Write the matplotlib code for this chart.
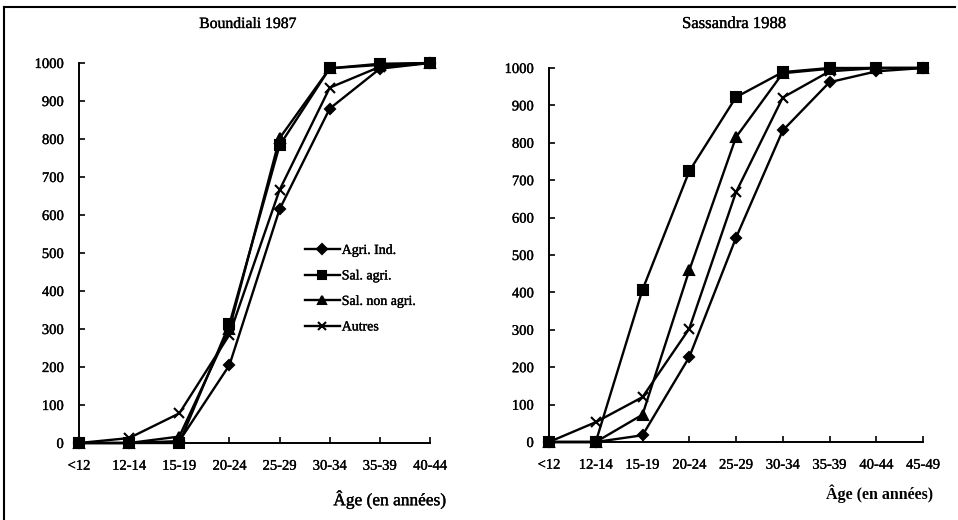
import matplotlib.pyplot as plt
import matplotlib.patheffects as pe
from matplotlib.lines import Line2D

plt.rcParams['font.family'] = ['Liberation Serif', 'DejaVu Serif']
plt.rcParams['font.size'] = 10

ages_b = ['<12', '12-14', '15-19', '20-24', '25-29', '30-34', '35-39', '40-44']
ages_s = ages_b + ['45-49']

# Boundiali 1987
b_agri_ind = [0, 0, 5, 205, 615, 880, 985, 1000]
b_sal_agri = [0, 0, 0, 313, 783, 986, 998, 1000]
b_sal_non = [0, 0, 17, 300, 802, 986, 995, 1000]
b_autres = [0, 13, 78, 285, 666, 935, 990, 1000]

# Sassandra 1988
s_agri_ind = [0, 0, 18, 227, 546, 833, 962, 991, 1000]
s_sal_agri = [0, 0, 407, 724, 922, 989, 1000, 1000, 1000]
s_sal_non = [0, 0, 73, 459, 815, 986, 998, 1000, 1000]
s_autres = [0, 53, 120, 303, 668, 921, 991, 1000, 1000]

labels = ['Agri. Ind.', 'Sal. agri.', 'Sal. non agri.', 'Autres']
markers = ['D', 's', '^', 'x']
msizes = [5.5, 6.5, 6.5, 7]

ink = [pe.withStroke(linewidth=0.25, foreground='black')]

fig = plt.figure(figsize=(9.58, 5.2), dpi=100)
W, H = 958, 520

def px_axes(x0, x1, ytop, ybot):
    return fig.add_axes([x0 / W, 1 - ybot / H, (x1 - x0) / W, (ybot - ytop) / H])

ax1 = px_axes(79, 430, 63, 443)
ax2 = px_axes(549, 923, 68, 442)

def draw(ax, cats, series, title, tx, tsize):
    x = list(range(len(cats)))
    handles = []
    for vals, m, ms, lab in zip(series, markers, msizes, labels):
        h, = ax.plot(x, vals, color='black', lw=1.7, marker=m, ms=ms,
                     mew=1.5, clip_on=False, label=lab)
        handles.append(h)
    ax.set_xlim(0, len(cats) - 1)
    ax.set_ylim(0, 1000)
    ax.set_yticks(range(0, 1001, 100))
    ax.set_xticks(x)
    ax.set_xticklabels(cats)
    for s in ['top', 'right']:
        ax.spines[s].set_visible(False)
    for s in ['left', 'bottom']:
        ax.spines[s].set_linewidth(1.4)
    ax.tick_params(axis='y', direction='in', length=4, width=1.2, pad=11, labelsize=10.5)
    ax.tick_params(axis='x', direction='in', length=4, width=1.2, pad=12, labelsize=10.5)
    for t in ax.get_xticklabels() + ax.get_yticklabels():
        t.set_path_effects(ink)
    fig.text(tx / W, 1 - 24 / H, title, ha='center', va='center', fontsize=tsize,
             path_effects=ink)
    return handles

hs = draw(ax1, ages_b, [b_agri_ind, b_sal_agri, b_sal_non, b_autres], 'Boundiali 1987', 248, 11.3)
draw(ax2, ages_s, [s_agri_ind, s_sal_agri, s_sal_non, s_autres], 'Sassandra 1988', 734, 12)

fig.text(390 / W, 1 - 500 / H, 'Âge (en années)', ha='center', va='center', fontsize=12.5,
         path_effects=ink)
fig.text(880 / W, 1 - 494 / H, 'Âge (en années)', ha='center', va='center', fontsize=11.5,
         fontweight='bold')

leg = ax1.legend(handles=hs, loc='upper left', bbox_to_anchor=(298 / W, 1 - 237 / H),
                 bbox_transform=fig.transFigure, frameon=False, handlelength=2.5,
                 handletextpad=0.15, labelspacing=0.9, borderpad=0, fontsize=10,
                 markerscale=0.85)
for t in leg.get_texts():
    t.set_path_effects(ink)

# frame lines (top and left) of the scanned figure
fig.add_artist(Line2D([4 / W, 955 / W], [1 - 7 / H, 1 - 7 / H], color='black', lw=1.5))
fig.add_artist(Line2D([4 / W, 4 / W], [1 - 7 / H, 0], color='black', lw=1.5))

fig.savefig('out.png', dpi=100)
